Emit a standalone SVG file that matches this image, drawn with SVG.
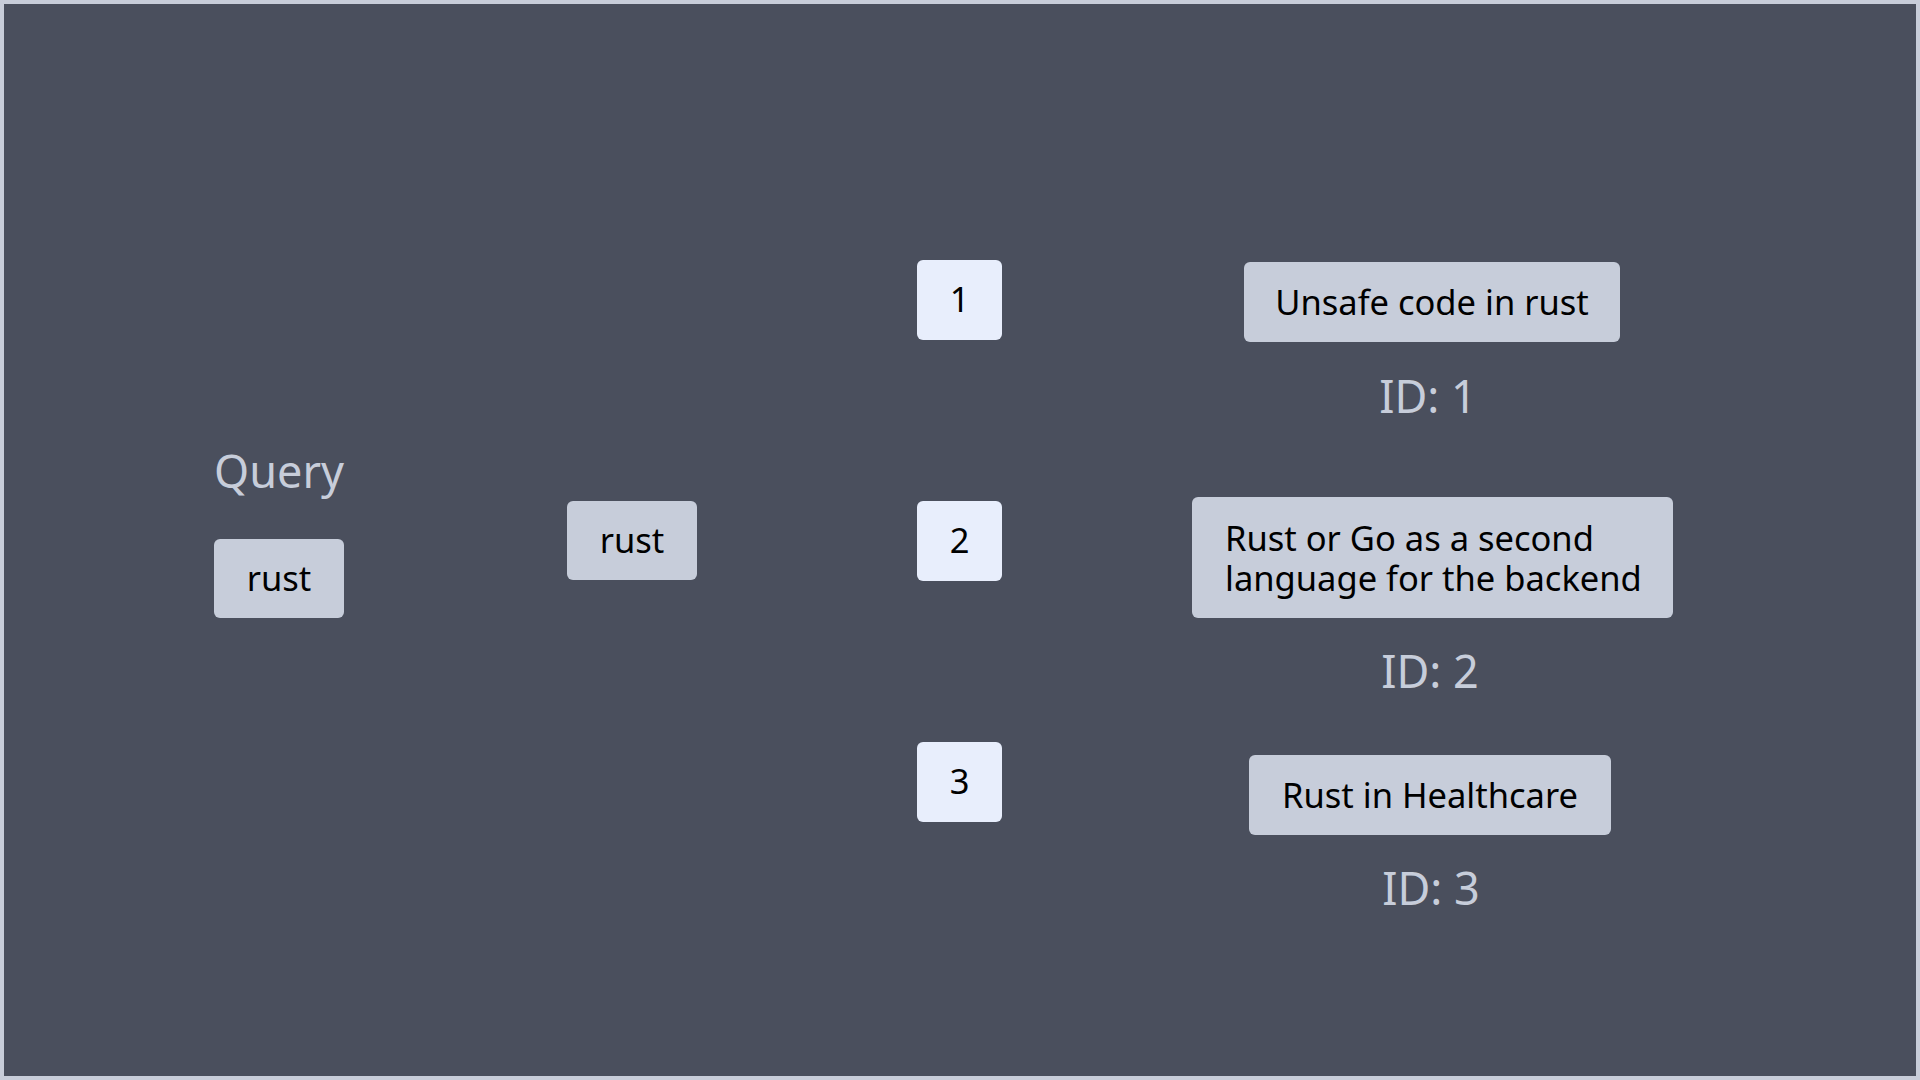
<svg xmlns="http://www.w3.org/2000/svg" width="1920" height="1080" viewBox="0 0 1920 1080">
<style>
.bg{fill:#4a4f5d;stroke:#c8cdd9;stroke-width:8}
.box{fill:#c7cdda}
.num{fill:#e8eefc}
.t{font-family:"Noto Sans","Open Sans","DejaVu Sans",sans-serif;fill:#000;font-size:34.5px}
.lbl{font-family:"Noto Sans","Open Sans","DejaVu Sans",sans-serif;fill:#c7cdda;font-size:45px}
</style>
<rect class="bg" x="0" y="0" width="1920" height="1080"/>
<g id="connectors"></g>
<g id="query-label"><text class="lbl" x="279" y="488" text-anchor="middle">Query</text></g>
<g id="query"><rect class="box" x="214" y="539" width="130" height="79" rx="6"/><text class="t" x="279" y="591" text-anchor="middle">rust</text></g>
<g id="token"><rect class="box" x="567" y="501" width="130" height="79" rx="6"/><text class="t" x="632" y="553" text-anchor="middle">rust</text></g>
<g id="n1"><rect class="num" x="917" y="260" width="85" height="80" rx="6"/><text class="t" x="959.5" y="312" text-anchor="middle">1</text></g>
<g id="n2"><rect class="num" x="917" y="501" width="85" height="80" rx="6"/><text class="t" x="959.5" y="553" text-anchor="middle">2</text></g>
<g id="n3"><rect class="num" x="917" y="742" width="85" height="80" rx="6"/><text class="t" x="959.5" y="794" text-anchor="middle">3</text></g>
<g id="doc1"><rect class="box" x="1244" y="262" width="376" height="80" rx="6"/><text class="t" x="1432" y="315" text-anchor="middle">Unsafe code in rust</text></g>
<g id="id1"><text class="lbl" x="1428" y="413" text-anchor="middle">ID: 1</text></g>
<g id="doc2"><rect class="box" x="1192" y="497" width="481" height="121" rx="6"/><text class="t" x="1225" y="551">Rust or Go as a second</text><text class="t" x="1225" y="591">language for the backend</text></g>
<g id="id2"><text class="lbl" x="1430" y="688" text-anchor="middle">ID: 2</text></g>
<g id="doc3"><rect class="box" x="1249" y="755" width="362" height="80" rx="6"/><text class="t" x="1430" y="808" text-anchor="middle">Rust in Healthcare</text></g>
<g id="id3"><text class="lbl" x="1431" y="905" text-anchor="middle">ID: 3</text></g>
</svg>
